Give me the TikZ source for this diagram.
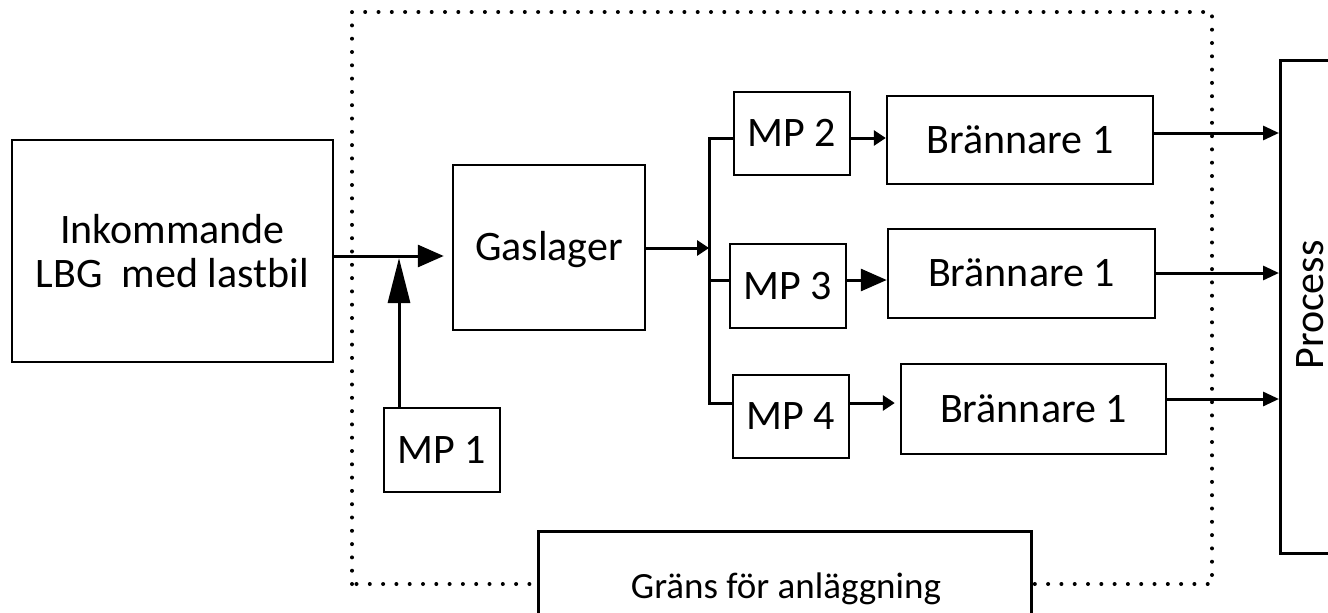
\documentclass[tikz,border=0pt]{standalone}
\usepackage{fontspec}
\setmainfont{Carlito}
\usetikzlibrary{arrows.meta}
\begin{document}
\begin{tikzpicture}[x=1pt,y=-1pt,
  box/.style={draw,line width=2.5pt,fill=white,inner sep=0pt,font=\fontsize{42}{48}\selectfont,align=center},
  one/.style={text height=26.5pt,text depth=0pt},
  conn/.style={line width=3pt},
  bigtip/.style={conn,-{Triangle[length=26pt,width=22pt]}},
  longtip/.style={conn,-{Triangle[length=45pt,width=22pt]}},
  smalltip/.style={conn,-{Triangle[length=12pt,width=15pt]}},
  midtip/.style={conn,-{Triangle[length=16pt,width=14pt]}},
  border/.style={line width=4pt,dash pattern=on 0pt off 13.3pt,line cap=round}]
\useasboundingbox (0,0) rectangle (1328,613);
% boundary
\draw[border] (352,584) -- (352,12) -- (1212,12) -- (1212,584) -- cycle;
% nodes
\node[box,minimum width=321pt,minimum height=222pt] (ink) at (172.5,251) {Inkommande\\[-4pt]LBG\ \ med lastbil};
\node[box,one,minimum width=116pt,minimum height=84pt] (mp1) at (442,450) {MP 1};
\node[box,one,minimum width=192pt,minimum height=165pt] (gas) at (549,247.5) {Gaslager};
\node[box,one,minimum width=116pt,minimum height=83pt] (mp2) at (792,133.5) {MP 2};
\node[box,one,minimum width=116pt,minimum height=84pt] (mp3) at (788,286) {MP 3};
\node[box,one,minimum width=116pt,minimum height=83pt] (mp4) at (791,416.5) {MP 4};
\node[box,one,minimum width=266pt,minimum height=88pt] (br1) at (1020,140) {Brännare 1};
\node[box,one,minimum width=267pt,minimum height=89pt] (br2) at (1021.5,273.5) {Brännare 1};
\node[box,one,minimum width=265pt,minimum height=90pt] (br3) at (1033.5,409) {Brännare 1};
\node[box,minimum width=60pt,minimum height=493pt,anchor=north west] (proc) at (1279,59) {};
\node[font=\fontsize{42}{48}\selectfont,rotate=90,inner sep=0pt,text height=26.5pt,text depth=0pt] (proclbl) at (1310,305) {Process};
\node[box,minimum width=493pt,minimum height=100pt,anchor=north west] (grans) at (537,530) {};
\node[font=\fontsize{37}{44}\selectfont,inner sep=0pt,anchor=base] (granslbl) at (786,598) {Gräns för anläggning};
% connectors
\coordinate (join) at (399,258);
\coordinate (bus) at (709,248);
\draw[bigtip,shorten >=8pt] (ink.east |- 0,256) -- (gas.west |- 0,256);
\draw[longtip] (mp1.north -| join) -- (join);
\draw[smalltip] (gas.east |- bus) -- (bus);
\draw[conn] (mp2.west |- 0,138) -| (bus) |- (mp4.west |- 0,403);
\draw[conn] (bus |- 0,280) -- (mp3.west |- 0,280);
\draw[smalltip] (mp2.east |- 0,138) -- (br1.west |- 0,138);
\draw[bigtip] (mp3.east |- 0,280) -- (br2.west |- 0,280);
\draw[smalltip,shorten >=5pt] (mp4.east |- 0,403) -- (br3.west |- 0,403);
\draw[midtip] (br1.east |- 0,133) -- (proc.west |- 0,133);
\draw[midtip] (br2.east |- 0,273) -- (proc.west |- 0,273);
\draw[midtip] (br3.east |- 0,399) -- (proc.west |- 0,399);
\end{tikzpicture}
\end{document}
